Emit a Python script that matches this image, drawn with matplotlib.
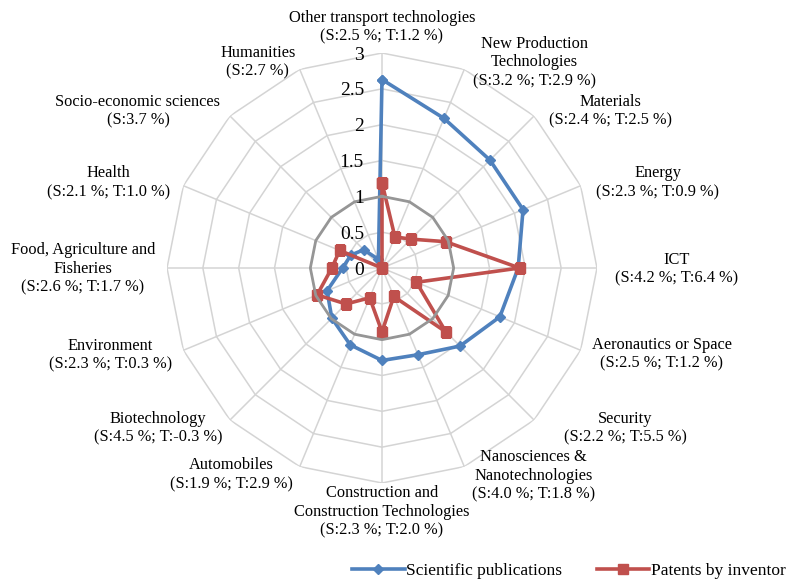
import numpy as np
import matplotlib
matplotlib.use("Agg")
import matplotlib.pyplot as plt

plt.rcParams['font.family'] = ['Liberation Serif', 'DejaVu Serif']

categories = [
    "Other transport technologies\n(S:2.5 %; T:1.2 %)",
    "New Production\nTechnologies\n(S:3.2 %; T:2.9 %)",
    "Materials\n(S:2.4 %; T:2.5 %)",
    "Energy\n(S:2.3 %; T:0.9 %)",
    "ICT\n(S:4.2 %; T:6.4 %)",
    "Aeronautics or Space\n(S:2.5 %; T:1.2 %)",
    "Security\n(S:2.2 %; T:5.5 %)",
    "Nanosciences &\nNanotechnologies\n(S:4.0 %; T:1.8 %)",
    "Construction and\nConstruction Technologies\n(S:2.3 %; T:2.0 %)",
    "Automobiles\n(S:1.9 %; T:2.9 %)",
    "Biotechnology\n(S:4.5 %; T:-0.3 %)",
    "Environment\n(S:2.3 %; T:0.3 %)",
    "Food, Agriculture and\nFisheries\n(S:2.6 %; T:1.7 %)",
    "Health\n(S:2.1 %; T:1.0 %)",
    "Socio-economic sciences\n(S:3.7 %)",
    "Humanities\n(S:2.7 %)",
]
scientific = [2.63, 2.26, 2.13, 2.13, 1.90, 1.78, 1.54, 1.31, 1.29, 1.16, 0.99, 0.83, 0.55, 0.47, 0.36, 0.13]
patents = [1.19, 0.47, 0.57, 0.96, 1.92, 0.52, 1.26, 0.43, 0.89, 0.45, 0.71, 0.98, 0.70, 0.64, 0.0, 0.0]
reference = [1.0, 1.0, 1.0, 1.0, 1.0, 1.0, 1.0, 1.0, 1.0, 1.0, 1.0, 1.0, 1.0, 1.0, 1.0, 1.0]
r_ticks = [0, 0.5, 1, 1.5, 2, 2.5, 3]
r_tick_labels = ["0", "0.5", "1", "1.5", "2", "2.5", "3"]
series_names = ["Scientific publications", "Patents by inventor"]

# label offsets (pixels from the outer grid vertex)
label_offsets = [(0, -26), (70, -7), (76, -5), (77, -3), (80, 1), (81, 4), (91, 8), (69, 9),
                 (0, 29), (-68, 8), (-72, 8), (-73, 5), (-84, 1), (-75, -3), (-92, -5), (-42, -7)]

n = len(categories)
theta = np.arange(n) * 2 * np.pi / n
theta_c = np.append(theta, theta[0])

def closed(v):
    return np.append(np.asarray(v, dtype=float), v[0])

W, H = 786, 580
fig = plt.figure(figsize=(W / 100, H / 100), dpi=100)
cx, cy, R = 382, 268, 215
ax = fig.add_axes([(cx - R) / W, (H - cy - R) / H, 2 * R / W, 2 * R / H], projection='polar')
ax.set_theta_zero_location('N')
ax.set_theta_direction(-1)
ax.set_ylim(0, 3)
ax.set_frame_on(False)
ax.grid(False)
ax.set_xticks([])
ax.set_yticks([])
ax.patch.set_alpha(0)

grid_col = '#D4D4D4'
for lvl in r_ticks[1:]:
    ax.plot(theta_c, [lvl] * (n + 1), color=grid_col, lw=1.1, zorder=1)
for t in theta:
    ax.plot([t, t], [0, 3], color=grid_col, lw=1.1, zorder=1)

l1, = ax.plot(theta_c, closed(scientific), color='#4F81BD', lw=2.6, marker='D', markersize=5.5,
              markerfacecolor='#4F81BD', markeredgecolor='#4F81BD', zorder=3, label=series_names[0])
l2, = ax.plot(theta_c, closed(patents), color='#C0504D', lw=2.6, marker='s', markersize=7.5,
              markerfacecolor='#C0504D', markeredgecolor='#C0504D', zorder=4, label=series_names[1])
ax.plot(theta_c, closed(reference), color='#969696', lw=2.0, zorder=5)

for v, s in zip(r_ticks, r_tick_labels):
    ax.annotate(s, xy=(0, v), xytext=(-13, -1.5), textcoords='offset points',
                ha='right', va='center', fontsize=14, color='black', zorder=6)

for t, lab, (dx, dy) in zip(theta, categories, label_offsets):
    ax.annotate(lab, xy=(t, 3), xytext=(dx * 0.72, -dy * 0.72), textcoords='offset points',
                ha='center', va='center', multialignment='center', fontsize=11.8,
                linespacing=1.22, annotation_clip=False)

fig.legend(handles=[l1, l2], loc='center', bbox_to_anchor=(569 / W, 1 - 571 / H), ncol=2,
           frameon=False, fontsize=12.5, handlelength=3.0, handletextpad=0.1,
           columnspacing=2.0, borderpad=0)

fig.savefig('out.png', dpi=100, facecolor='white')
